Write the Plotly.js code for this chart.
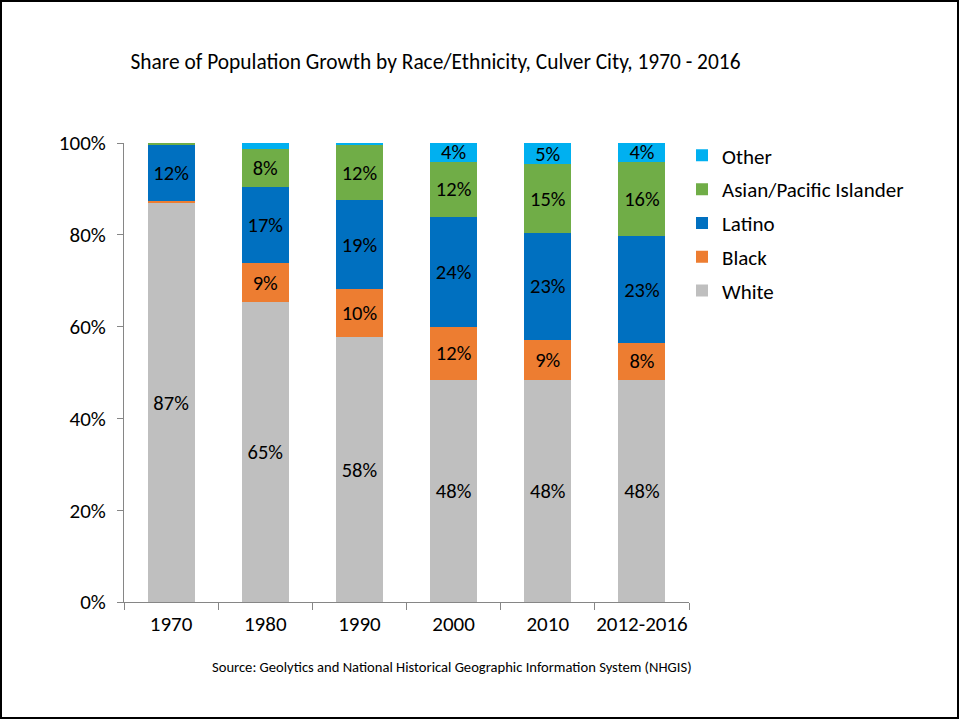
<!DOCTYPE html>
<html>
<head>
<meta charset="utf-8">
<script src="https://cdn.plot.ly/plotly-3.0.1.min.js"></script>
<style>
html,body{margin:0;padding:0;background:#fff;}
#chart{width:955px;height:715px;border:2px solid #000;}
</style>
</head>
<body>
<div id="chart"></div>
<script>
const categories = ["1970", "1980", "1990", "2000", "2010", "2012-2016"];
const white  = [86.9, 65.3, 57.7, 48.4, 48.4, 48.4];
const black  = [0.5, 8.6, 10.4, 11.5, 8.7, 8.0];
const latino = [12.1, 16.6, 19.4, 24.0, 23.3, 23.3];
const asian  = [0.5, 8.2, 12.0, 12.0, 15.0, 16.2];
const other  = [0.0, 1.3, 0.5, 4.1, 4.6, 4.1];
const seriesNames = ["White", "Black", "Latino", "Asian/Pacific Islander", "Other"];
const seriesColors = ["#BFBFBF", "#ED7D31", "#0070C0", "#70AD47", "#00B0F0"];
const seriesValues = [white, black, latino, asian, other];

const FONT = "Carlito, Calibri, Lato, 'Open Sans', sans-serif";

const traces = seriesValues.map((vals, i) => ({
  type: 'bar',
  name: seriesNames[i],
  legendgroup: 'g' + i,
  legendrank: seriesValues.length - i,
  x: categories,
  y: vals.map(v => v / 100),
  text: vals.map(v => v >= 3 ? Math.round(v) + '%' : ''),
  textposition: 'inside',
  insidetextanchor: 'middle',
  textangle: 0,
  constraintext: 'none',
  textfont: {family: FONT, size: 20.5, color: '#000'},
  marker: {color: seriesColors[i], line: {width: 0}},
  hoverinfo: 'name+y'
}));

const layout = {
  width: 955, height: 715,
  barmode: 'stack',
  bargap: 0.5,
  margin: {l: 121.5, r: 268, t: 141, b: 115},
  paper_bgcolor: '#fff', plot_bgcolor: '#fff',
  font: {family: FONT, size: 20, color: '#000'},
  uniformtext: {mode: 'show', minsize: 20.5},
  title: {
    text: 'Share of Population Growth by Race/Ethnicity, Culver City, 1970 - 2016',
    font: {family: FONT, size: 21.4, color: '#000'},
    x: 433.5/955, xref: 'container', xanchor: 'center',
    y: 1 - 60/715, yref: 'container', yanchor: 'middle'
  },
  xaxis: {
    type: 'category',
    tickson: 'boundaries',
    tickangle: 0,
    ticks: 'outside', ticklen: 7, tickcolor: '#868686',
    showline: true, linecolor: '#868686', linewidth: 1,
    showgrid: false,
    ticklabelstandoff: 3,
    tickfont: {family: FONT, size: 21, color: '#000'}
  },
  yaxis: {
    range: [0, 1],
    tickvals: [0, 0.2, 0.4, 0.6, 0.8, 1.0],
    tickformat: '.0%',
    ticks: 'outside', ticklen: 6, tickcolor: '#868686',
    showline: true, linecolor: '#868686', linewidth: 1,
    showgrid: false, zeroline: false,
    tickfont: {family: FONT, size: 21, color: '#000'},
    ticklabelstandoff: 7
  },
  legend: {
    traceorder: 'grouped',
    tracegroupgap: 3.5,
    itemwidth: 30,
    x: (682 - 123.5) / 565.5, xanchor: 'left',
    y: 1.017, yanchor: 'top',
    font: {family: FONT, size: 21, color: '#000'},
    bgcolor: 'rgba(0,0,0,0)'
  },
  annotations: [{
    text: 'Source: Geolytics and National Historical Geographic Information System (NHGIS)',
    xref: 'paper', yref: 'paper',
    x: (451.5 - 123.5) / 565.5, y: -(665 - 141 - 459) / 459,
    xanchor: 'center', yanchor: 'middle',
    showarrow: false,
    font: {family: FONT, size: 14.6, color: '#000'}
  }],
  showlegend: true
};

Plotly.newPlot('chart', traces, layout, {displayModeBar: false, staticPlot: true});
</script>
</body>
</html>
